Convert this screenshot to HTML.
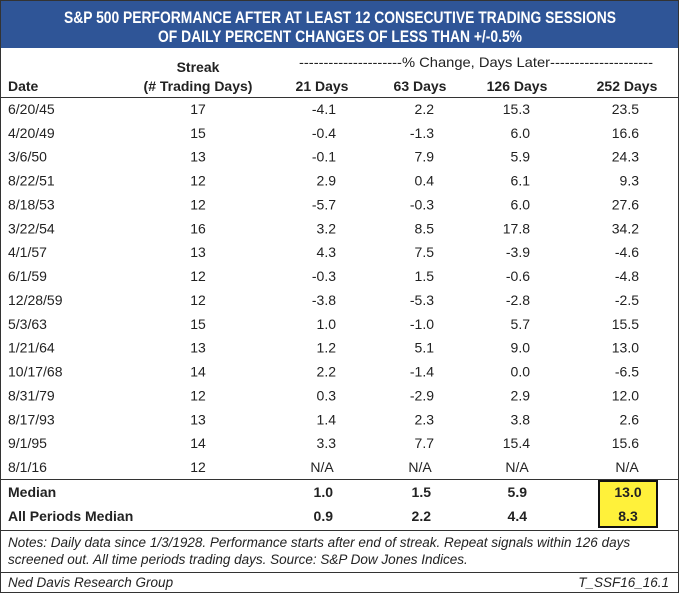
<!DOCTYPE html>
<html><head><meta charset="utf-8"><style>
body{margin:0;background:#fff}
svg{display:block;font-family:"Liberation Sans Narrow","Liberation Sans",sans-serif}
</style></head><body>
<svg width="679" height="593" id="s">
<rect x="0.5" y="0.5" width="678" height="592" fill="#fff" stroke="#333"/>
<rect x="1" y="1" width="677" height="47" fill="#2f5597"/>
<text x="340" y="23" fill="#fff" font-size="16.5" font-weight="bold" text-anchor="middle" textLength="552" lengthAdjust="spacingAndGlyphs">S&amp;P 500 PERFORMANCE AFTER AT LEAST 12 CONSECUTIVE TRADING SESSIONS</text>
<text x="340" y="42" fill="#fff" font-size="16.5" font-weight="bold" text-anchor="middle" textLength="364" lengthAdjust="spacingAndGlyphs">OF DAILY PERCENT CHANGES OF LESS THAN +/-0.5%</text>
<g font-size="14" fill="#222">
<text x="198" y="72" font-weight="bold" text-anchor="middle">Streak</text>
<text x="476" y="67" text-anchor="middle" textLength="354" lengthAdjust="spacingAndGlyphs">---------------------% Change, Days Later---------------------</text>
<g font-weight="bold">
<text x="8" y="91">Date</text>
<text x="198" y="91" text-anchor="middle">(# Trading Days)</text>
<text x="322" y="91" text-anchor="middle">21 Days</text>
<text x="420" y="91" text-anchor="middle">63 Days</text>
<text x="517" y="91" text-anchor="middle">126 Days</text>
<text x="627" y="91" text-anchor="middle">252 Days</text>
</g></g>
<line x1="0" y1="97.5" x2="679" y2="97.5" stroke="#333"/>
<rect x="599" y="481" width="58" height="46" fill="#fff13a" stroke="#111" stroke-width="2"/>
<line x1="0" y1="479.5" x2="679" y2="479.5" stroke="#333"/>
<line x1="0" y1="530.5" x2="679" y2="530.5" stroke="#333"/>
<line x1="0" y1="572.5" x2="679" y2="572.5" stroke="#333"/>
<g font-size="13.5" font-style="italic" fill="#222">
<text x="8" y="547">Notes: Daily data since 1/3/1928. Performance starts after end of streak. Repeat signals within 126 days</text>
<text x="8" y="564">screened out. All time periods trading days.  Source: S&amp;P Dow Jones Indices.</text>
<text x="8" y="587">Ned Davis Research Group</text>
<text x="669" y="587" text-anchor="end">T_SSF16_16.1</text>
</g>
<g id="rows" font-size="14" fill="#222"></g>
</svg>
<script>
const dates=["6/20/45","4/20/49","3/6/50","8/22/51","8/18/53","3/22/54","4/1/57","6/1/59","12/28/59","5/3/63","1/21/64","10/17/68","8/31/79","8/17/93","9/1/95","8/1/16"];
const streaks=["17","15","13","12","12","16","13","12","12","15","13","14","12","13","14","12"];
const d21=["-4.1","-0.4","-0.1","2.9","-5.7","3.2","4.3","-0.3","-3.8","1.0","1.2","2.2","0.3","1.4","3.3","N/A"];
const d63=["2.2","-1.3","7.9","0.4","-0.3","8.5","7.5","1.5","-5.3","-1.0","5.1","-1.4","-2.9","2.3","7.7","N/A"];
const d126=["15.3","6.0","5.9","6.1","6.0","17.8","-3.9","-0.6","-2.8","5.7","9.0","0.0","2.9","3.8","15.4","N/A"];
const d252=["23.5","16.6","24.3","9.3","27.6","34.2","-4.6","-4.8","-2.5","15.5","13.0","-6.5","12.0","2.6","15.6","N/A"];
const medLabels=["Median","All Periods Median"];
const med21=["1.0","0.9"],med63=["1.5","2.2"],med126=["5.9","4.4"],med252=["13.0","8.3"];
const g=document.getElementById('rows');
function t(x,y,s,anchor,bold,name){
 const e=document.createElementNS('http://www.w3.org/2000/svg','text');
 e.setAttribute('x',x);e.setAttribute('y',y);e.textContent=s;
 if(anchor)e.setAttribute('text-anchor',anchor);
 if(bold)e.setAttribute('font-weight','bold');
 
 
 g.appendChild(e);
}
const rowY=i=>114+i*23.87;
dates.forEach((d,i)=>{
 const y=rowY(i);
 t(8,y,d,null,false,'date-cell');
 t(198,y,streaks[i],'middle',false,'streak-cell');
 const na=d21[i]==="N/A";
 t(na?322:336,y,d21[i],na?'middle':'end',false,'21-day-cell');
 t(na?420:434,y,d63[i],na?'middle':'end',false,'63-day-cell');
 t(na?517:530,y,d126[i],na?'middle':'end',false,'126-day-cell');
 t(na?627:639,y,d252[i],na?'middle':'end',false,'252-day-cell');
});
medLabels.forEach((l,i)=>{
 const y=497+i*24;
 t(8,y,l,null,true,'median-label');
 t(333,y,med21[i],'end',true,'median-21');
 t(431,y,med63[i],'end',true,'median-63');
 t(527,y,med126[i],'end',true,'median-126');
 t(628,y,med252[i],'middle',true,'median-252');
});
</script>
</body></html>
